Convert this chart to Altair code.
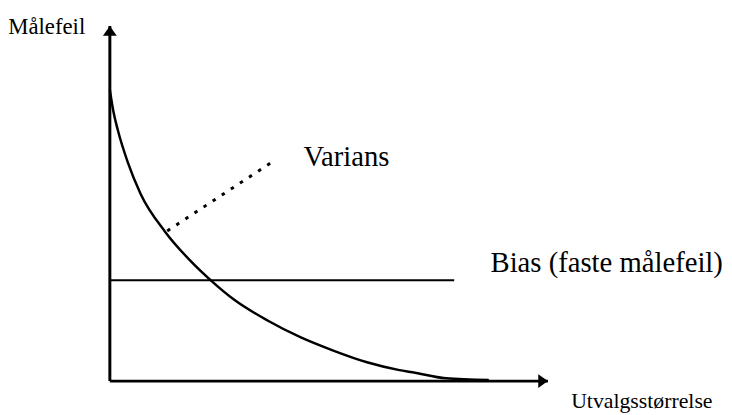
import altair as alt
import pandas as pd

# Conceptual units: sample size (x) and measurement error (y), axes run 0..100
curve_x = [0.0, 0.8, 1.8, 4.1, 7.0, 12.6, 18.3, 23.3, 28.4, 36.1, 43.6, 51.0, 58.7, 66.1, 69.1, 76.7, 86.5]
curve_y = [82.0, 76.0, 70.8, 61.6, 52.8, 42.1, 34.0, 28.1, 22.9, 17.0, 12.3, 8.6, 5.3, 3.1, 2.5, 0.8, 0.3]

bias_level = 28.4
bias_end = 78.6

axis_len = 100.0

varians_from = (13.1, 42.3)
varians_to = (37.5, 62.1)

label_text = ["Målefeil", "Varians", "Bias (faste målefeil)", "Utvalgsstørrelse"]
label_x = [-23.2, 44.2, 86.9, 105.3]
label_y = [97.8, 60.7, 30.6, -7.7]
label_size = [23, 29, 29, 22]

X_DOMAIN = [-23.25, 140.19]
Y_DOMAIN = [-8.91, 104.46]

xs = alt.Scale(domain=X_DOMAIN, nice=False, zero=False)
ys = alt.Scale(domain=Y_DOMAIN, nice=False, zero=False)

FONT = "Liberation Serif"

df_curve = pd.DataFrame({"x": curve_x, "y": curve_y})
df_axes = pd.DataFrame({
    "x": [0.0, 0.0], "y": [0.0, 0.0],
    "x2": [0.0, axis_len], "y2": [axis_len, 0.0],
})
df_bias = pd.DataFrame({"x": [0.0], "x2": [bias_end], "y": [bias_level], "y2": [bias_level]})
df_dot = pd.DataFrame({"x": [varians_from[0]], "y": [varians_from[1]],
                       "x2": [varians_to[0]], "y2": [varians_to[1]]})
df_up = pd.DataFrame({"x": [0.0], "y": [axis_len]})
df_right = pd.DataFrame({"x": [axis_len], "y": [0.0]})
df_labels = pd.DataFrame({"t": label_text, "x": label_x, "y": label_y, "s": label_size})

X = lambda f: alt.X(f, type="quantitative", scale=xs, axis=None)
Y = lambda f: alt.Y(f, type="quantitative", scale=ys, axis=None)

axes = alt.Chart(df_axes).mark_rule(color="black", strokeWidth=3).encode(
    x=X("x"), y=Y("y"), x2="x2", y2="y2")

curve = alt.Chart(df_curve).mark_line(color="black", strokeWidth=2.5, interpolate="monotone").encode(
    x=X("x"), y=Y("y"))

bias = alt.Chart(df_bias).mark_rule(color="black", strokeWidth=2).encode(
    x=X("x"), y=Y("y"), x2="x2", y2="y2")

dotted = alt.Chart(df_dot).mark_rule(color="black", strokeWidth=3, strokeDash=[3.5, 7.5]).encode(
    x=X("x"), y=Y("y"), x2="x2", y2="y2")

arrow_up = alt.Chart(df_up).mark_point(
    shape="M0,0L1,1.4L-1,1.4Z", filled=True, fill="black", color="black",
    size=196, strokeWidth=0, opacity=1).encode(x=X("x"), y=Y("y"))

arrow_right = alt.Chart(df_right).mark_point(
    shape="M0,0L-1.4,-1L-1.4,1Z", filled=True, fill="black", color="black",
    size=196, strokeWidth=0, opacity=1).encode(x=X("x"), y=Y("y"))

labels = alt.Chart(df_labels).mark_text(
    font=FONT, align="left", baseline="alphabetic", color="black").encode(
    x=X("x"), y=Y("y"), text="t:N",
    size=alt.Size("s:Q", scale=None, legend=None))

chart = alt.layer(axes, bias, curve, dotted, arrow_up, arrow_right, labels).properties(
    width=724, height=407,
    autosize=alt.AutoSizeParams(type="none"),
    padding=0,
).configure_view(stroke=None)

chart.save("out.html", embed_options={"renderer": "svg", "actions": False})
